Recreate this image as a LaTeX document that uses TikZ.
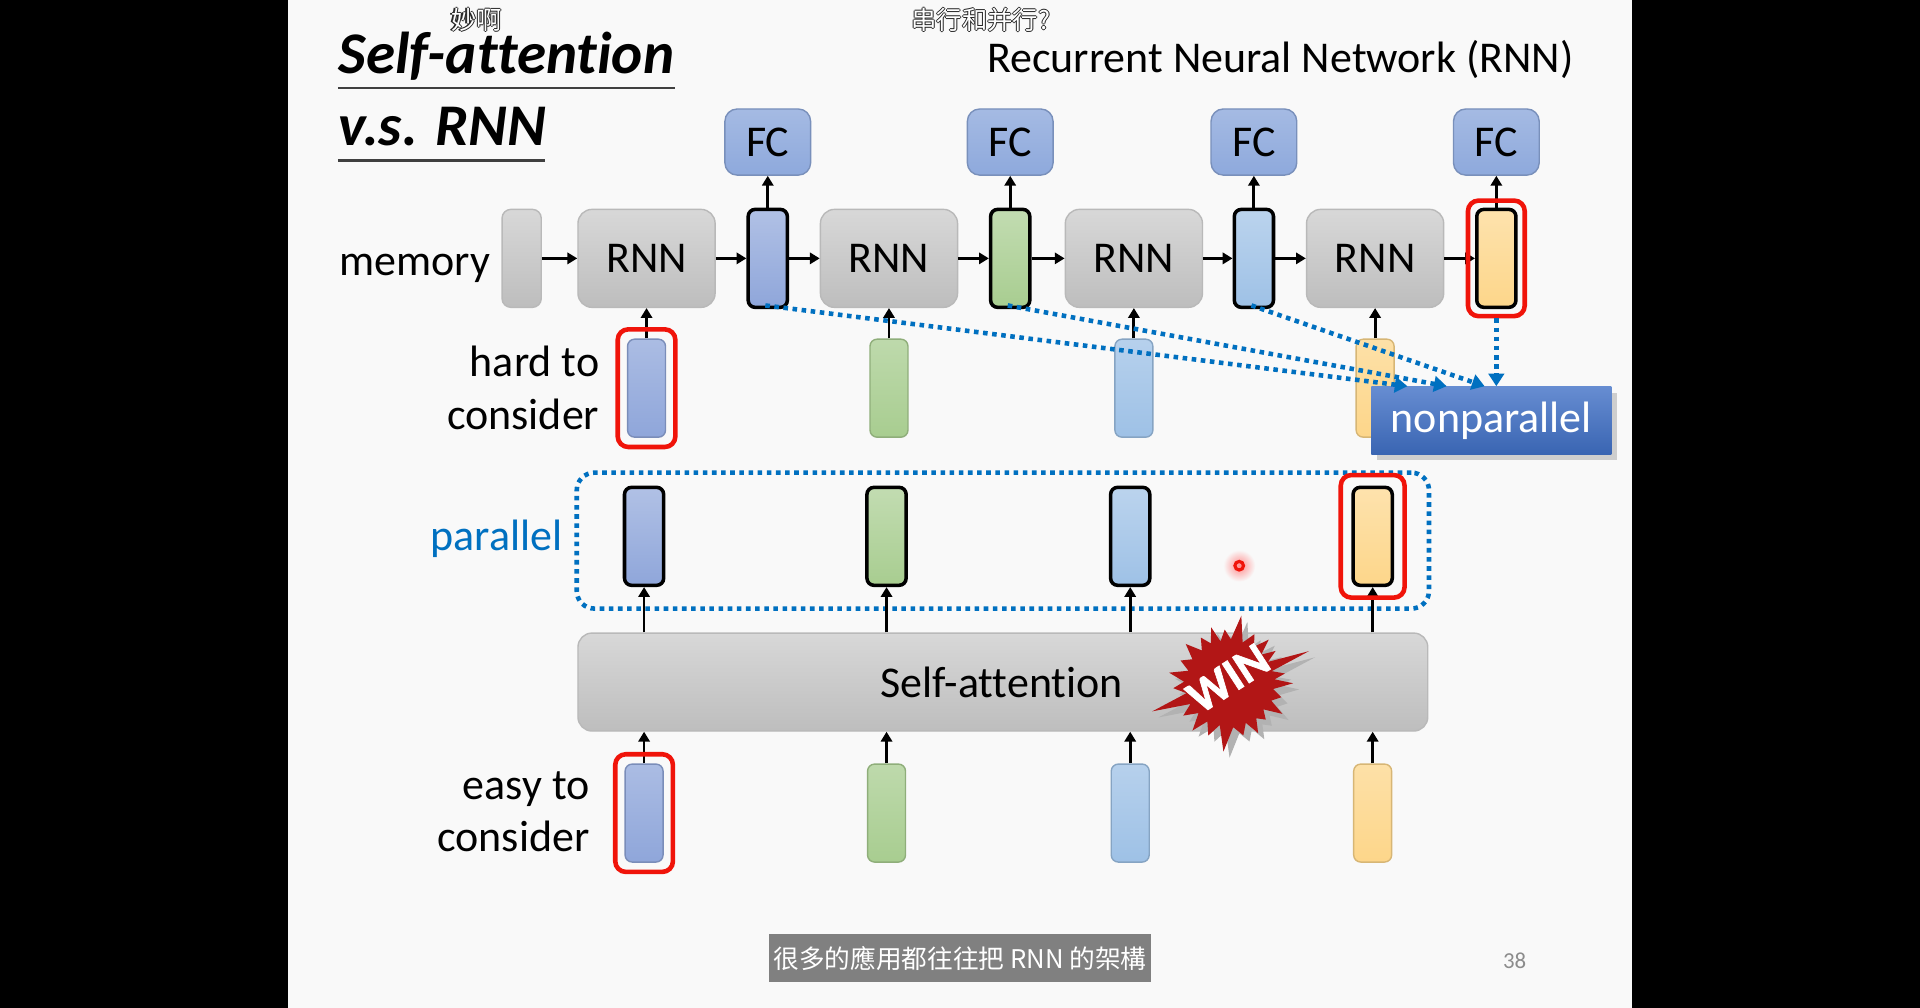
\documentclass[tikz,border=0pt]{standalone}
\usepackage{fontspec}
\setmainfont{Carlito}[Ligatures=NoCommon]
\newfontfamily\winfont{Carlito}[BoldFeatures={FakeBold=1.4}]
\newfontfamily\cjksc{Noto Sans CJK SC}
\newfontfamily\cjktc{Noto Sans CJK TC}
\usepackage{tikz}
\usetikzlibrary{arrows.meta,calc,fit,shadows}
\definecolor{slidebg}{RGB}{249,249,249}
\definecolor{vblue}{RGB}{143,166,218}
\definecolor{vgreen}{RGB}{168,205,144}
\definecolor{vsky}{RGB}{158,193,230}
\definecolor{vyellow}{RGB}{253,214,138}
\definecolor{fcblue}{RGB}{142,169,220}
\definecolor{boxgray}{RGB}{206,206,206}
\definecolor{npblue}{RGB}{64,112,198}
\definecolor{dotblue}{RGB}{0,112,192}
\definecolor{hotred}{RGB}{240,20,10}
\definecolor{winred}{RGB}{178,22,22}

\newcommand{\slidefont}{\fontsize{12.5}{15}\selectfont}
\newcommand{\spx}{0.012245cm}
% white subtitle text with a thin dark rim
\newcommand{\halotext}[1]{%
  \makebox[0pt][l]{\kern-0.3pt\color{black!85}#1}%
  \makebox[0pt][l]{\kern0.3pt\color{black!85}#1}%
  \makebox[0pt][l]{\raisebox{0.3pt}{\color{black!85}#1}}%
  \makebox[0pt][l]{\raisebox{-0.3pt}{\color{black!85}#1}}%
  {\color{white}#1}}

\tikzset{
  lbl/.style={font=\slidefont, inner sep=0pt},
  ttl/.style={font=\fontsize{16.8}{20}\selectfont\bfseries\itshape, inner sep=0pt},
  ulin/.style={black!75, line width=0.7pt},
  rnnbox/.style={draw=gray!55, top color=boxgray!80!white, bottom color=boxgray!92!black,
    rounded corners=4pt, minimum width=112*\spx, minimum height=80*\spx, inner sep=0pt, font=\slidefont},
  membox/.style={rnnbox, minimum width=32*\spx, rounded corners=2.5pt},
  fcbox/.style={draw=fcblue!85!black, top color=fcblue!80!white, bottom color=fcblue,
    rounded corners=3.5pt, minimum width=70*\spx, minimum height=54*\spx, inner sep=0pt, font=\slidefont},
  invec/.style={minimum width=31*\spx, minimum height=80*\spx, inner sep=0pt, rounded corners=2pt, line width=0.4pt},
  hvec/.style={invec, minimum width=32*\spx, line width=1pt},
  redframe/.style={draw=hotred, line width=1.3pt, rounded corners=3pt, inner sep=2.6pt},
  arr/.style={-{Triangle[length=2.8pt,width=3.2pt]}, line width=0.8pt},
  dotarr/.style={dotblue, line width=1.3pt, dash pattern=on 1.3pt off 1.3pt,
    -{Triangle[length=3.6pt,width=4.4pt]}},
  dotframe/.style={draw=dotblue, line width=1.3pt, dash pattern=on 1.3pt off 1.3pt,
    rounded corners=5pt, minimum width=696*\spx, minimum height=111*\spx, inner sep=0pt},
  sabox/.style={rnnbox, minimum width=694*\spx},
  npbox/.style={top color=npblue!80!white, bottom color=npblue!90!black, text=white, font=\slidefont,
    minimum width=196*\spx, minimum height=55*\spx, inner sep=0pt,
    drop shadow={shadow xshift=1.6pt, shadow yshift=-1.6pt, opacity=0.35}},
  dmk/.style={font=\cjksc\fontsize{7.2}{8}\selectfont, inner sep=0pt},
  subbox/.style={fill=black!50, text=white, font=\cjktc\fontsize{7.3}{8}\selectfont,
    minimum width=312*\spx, minimum height=39*\spx, inner sep=0pt},
}

\newcommand{\winburst}{(0:52) foreach \a/\r in {7.5/36, 15/44, 22.5/37, 30/50, 37.5/35, 45/42, 52.5/36,
  60/47, 67.5/35, 75/44, 85/36, 95/56, 103/35, 112/46, 120/36, 128/49, 136/35, 145/46, 152/36,
  160/67, 167/36, 175/46, 182/37, 190/50, 197/35, 205/44, 213/36, 222/48, 230/35, 238/44, 245/36,
  252/48, 258/35, 265/44, 272/36, 280/56, 288/35, 297/45, 304/36, 312/48, 318/35, 325/46, 331/36,
  338/70, 344/36, 350/46, 355/37} {-- (\a:\r)} -- cycle}

\begin{document}
\begin{tikzpicture}[x=\spx, y=-\spx]
  \useasboundingbox (0,0) rectangle (1568,823);
  \fill[black] (0,0) rectangle (1568,823);
  \fill[slidebg] (235,0) rectangle (1333,823);

  % title block
  \node[ttl, anchor=base west] (ttl1) at (276,60) {Self-attention};
  \node[ttl, anchor=base west] (ttl2) at (276,118.6) {v.s. RNN};
  \draw[ulin] ($(ttl1.base west)+(0,12)$) -- ($(ttl1.base east)+(0,12)$);
  \draw[ulin] ($(ttl2.base west)+(0,12.5)$) -- ($(ttl2.base east)+(-2,12.5)$);
  \node[lbl, anchor=base] (rnnttl) at (1045.5,59) {Recurrent Neural Network (RNN)};

  % recurrent chain
  \node[lbl, anchor=base east] (memlbl) at (401,225) {memory};
  \node[membox] (mem) at (426,211) {};
  \foreach \i/\xr/\xh/\col in {1/528/627/vblue, 2/726/825/vgreen, 3/926/1024/vsky, 4/1123/1222/vyellow} {
    \node[rnnbox] (rnn\i) at (\xr,211) {RNN};
    \node[hvec, draw=black, top color=\col!70!white, bottom color=\col] (h\i) at (\xh,211) {};
    \node[fcbox] (fc\i) at (\xh,116) {FC};
    \node[invec, draw=\col!85!black, top color=\col!75!white, bottom color=\col] (x\i) at (\xr,317) {};
    \draw[arr] (x\i) -- (rnn\i);
    \draw[arr] (rnn\i) -- (h\i);
    \draw[arr] (h\i) -- (fc\i);
  }
  \draw[arr] (mem) -- (rnn1);
  \foreach \i/\j in {1/2,2/3,3/4}
    \draw[arr] (h\i) -- (rnn\j);
  \node[lbl, anchor=east, align=right] (hardlbl) at (490,317) {hard to\\consider};
  \node[redframe, fit=(x1)] (x1fr) {};
  \node[redframe, inner sep=2pt, fit=(h4)] (h4fr) {};

  % sequential dependency
  \node[npbox] (np) at (1218,343.5) {\raisebox{-1.5pt}{nonparallel}};
  \coordinate (np1) at ($(np.north west)+(30,0)$);
  \coordinate (np2) at ($(np.north west)+(62,0)$);
  \coordinate (np3) at ($(np.north west)+(93,0)$);
  \coordinate (np4) at (h4fr.south |- np.north);
  \foreach \i in {1,2,3}
    \draw[dotarr] ($(h\i.south)+(-2,-3)$) -- (np\i);
  \draw[dotarr] (h4fr.south) -- (np4);

  % self-attention
  \node[dotframe] (parfr) at (819,441.5) {};
  \node[lbl, anchor=east, text=dotblue] (partxt) at (460,440) {parallel};
  \node[sabox] (sa) at (819,557) {};
  \node[lbl] (satxt) at (818,557) {Self-attention};
  \foreach \i/\xo/\col in {1/526/vblue, 2/724/vgreen, 3/923/vsky, 4/1121/vyellow} {
    \node[hvec, draw=black, top color=\col!70!white, bottom color=\col] (o\i) at (\xo,438) {};
    \node[invec, draw=\col!85!black, top color=\col!75!white, bottom color=\col] (e\i) at (\xo,664) {};
    \draw[arr] (sa.north -| o\i) -- (o\i);
    \draw[arr] (e\i) -- (e\i |- sa.south);
  }
  \node[redframe, inner sep=3pt, fit=(o4)] (o4fr) {};
  \node[redframe, fit=(e1)] (e1fr) {};
  \node[lbl, anchor=east, align=right] (easylbl) at (482,663) {easy to\\consider};

  % WIN burst
  \fill[black!30, shift={(1009,563)}] \winburst;
  \fill[winred, shift={(1004,558)}] \winburst;
  \node[rotate=33, text=white, inner sep=0pt, font=\winfont\fontsize{13.5}{14}\selectfont\bfseries] (win) at (1003,554) {WIN};

  % laser dot
  \shade[inner color=red!45, outer color=slidebg] (1012,462) circle[radius=13];
  \draw[hotred, line width=0.9pt] (1012,462) circle[radius=3.5];

  % video overlays
  \node[dmk] (dm1) at (389,16) {\halotext{妙啊}};
  \node[dmk] (dm2) at (801,16) {\halotext{串行和并行?}};
  \node[subbox] (sub) at (784,782.5) {很多的應用都往往把 RNN 的架構};
  \node[text=black!45, inner sep=0pt, font=\fontsize{6.5}{7}\selectfont] (pg) at (1237,785) {38};
\end{tikzpicture}
\end{document}
